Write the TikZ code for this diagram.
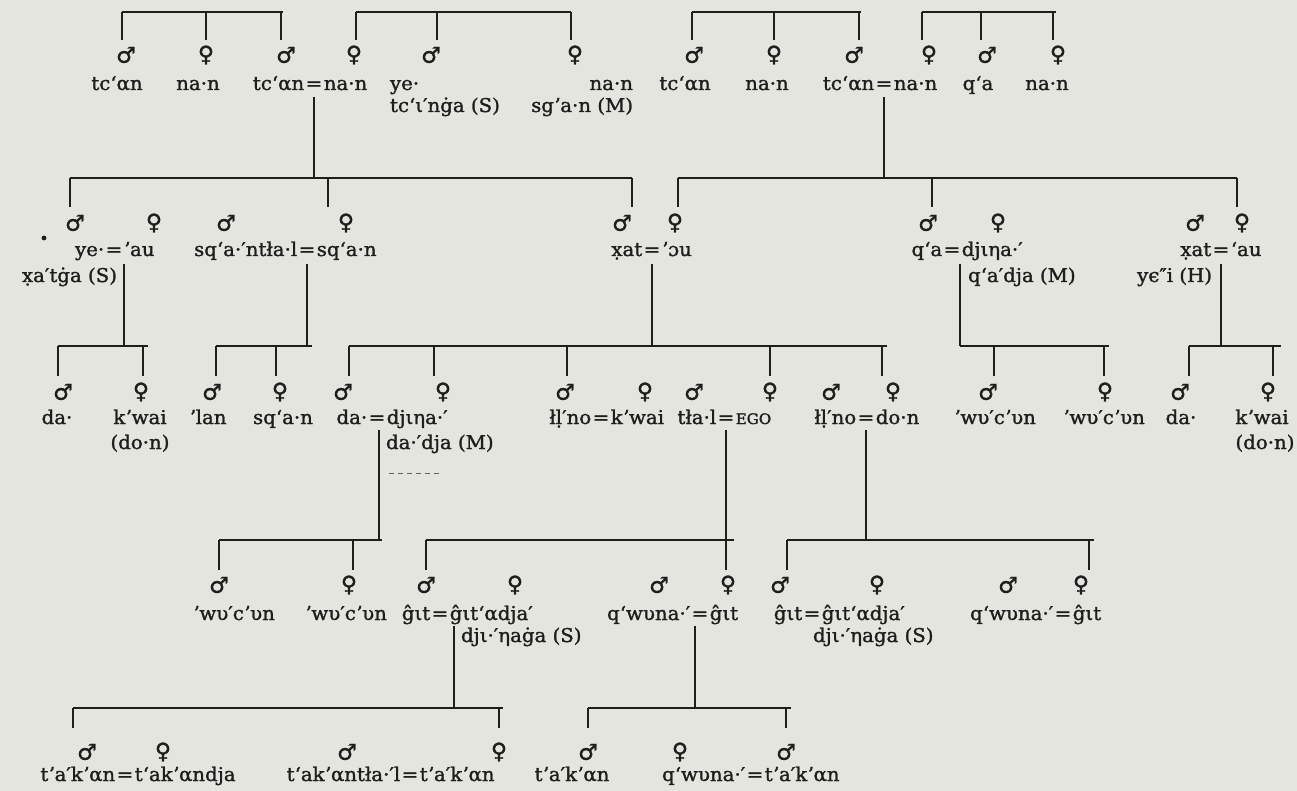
\documentclass[tikz,border=0pt]{standalone}
\usepackage{fontspec}
\setmainfont{DejaVu Serif}[FakeStretch=1.04,FakeBold=1.4]
\newfontfamily\symfont{DejaVu Sans}[FakeBold=1.2]
\definecolor{paper}{RGB}{229,229,223}
\definecolor{ink}{RGB}{30,30,28}

% sibling line at height #1 from #2 to #3, with drop ticks #5 of length #4
\newcommand\sibs[5]{%
  \draw[kin] (#2,#1) -- (#3,#1);
  \foreach \tx in {#5} {\draw[kin] (\tx,#1) -- (\tx,#1+#4);}
}
% married couple: node #1 is the "=" at (#2,#3), partners #4 and #5 on either side
\newcommand\couple[5]{%
  \node[lbl,anchor=base] (#1) at (#2,#3) {=};
  \node[lbl,anchor=base east] (#1-l) at ([xshift=-1.5pt]#1.base west) {#4};
  \node[lbl,anchor=base west] (#1-r) at ([xshift=1.5pt]#1.base east) {#5};
}
% descent line from a couple down to the line of their children
\newcommand\descent[3]{\draw[kin] (#1,#2) -- (#1,#3);}

\begin{document}
\begin{tikzpicture}[x=1pt,y=-1pt,
  every node/.style={inner sep=0pt,outer sep=0pt,text=ink},
  lbl/.style={font=\fontsize{19}{21}\selectfont},
  male/.style={font=\symfont\fontsize{22}{22}\selectfont,anchor=center},
  female/.style={font=\symfont\fontsize{22}{22}\selectfont,anchor=center},
  kin/.style={draw=ink,line width=1.8pt},
]
\fill[paper] (0,0) rectangle (1297,791);
\useasboundingbox (0,0) rectangle (1297,791);

% ---------------- generation 1 ----------------
\sibs{12}{122}{283}{28}{122,206,281}
\sibs{12}{356}{571}{28}{356,437,571}
\sibs{12}{692}{861}{28}{692,774,859}
\sibs{12}{922}{1056}{28}{922,981,1053}

\node[male]   (g1s1)  at (126,55)  {♂};
\node[female] (g1s2)  at (206,55)  {♀};
\node[male]   (g1s3)  at (286,55)  {♂};
\node[female] (g1s4)  at (354,55)  {♀};
\node[male]   (g1s5)  at (431,55)  {♂};
\node[female] (g1s6)  at (575,55)  {♀};
\node[male]   (g1s7)  at (694,55)  {♂};
\node[female] (g1s8)  at (774,55)  {♀};
\node[male]   (g1s9)  at (854,55)  {♂};
\node[female] (g1s10) at (929,55)  {♀};
\node[male]   (g1s11) at (987,55)  {♂};
\node[female] (g1s12) at (1058,55) {♀};

\node[lbl,anchor=base] (g1n1) at (117,90) {tcʻαn};
\node[lbl,anchor=base] (g1n2) at (198,90) {na·n};
\couple{ab}{314}{90}{tcʻαn}{na·n}
\node[lbl,anchor=base west] (g1n5) at (390,90) {ye·};
\node[lbl,anchor=base west] (g1n5b) at (390,112) {tcʻι′nġa (S)};
\node[lbl,anchor=base east] (g1n6) at (633,90) {na·n};
\node[lbl,anchor=base east] (g1n6b) at (633,112) {sgʼa·n (M)};
\node[lbl,anchor=base] (g1n7) at (685,90) {tcʻαn};
\node[lbl,anchor=base] (g1n8) at (767,90) {na·n};
\couple{cd}{884}{90}{tcʻαn}{na·n}
\node[lbl,anchor=base] (g1n11) at (978,90) {qʻa};
\node[lbl,anchor=base] (g1n12) at (1047,90) {na·n};

\descent{314}{97}{178}
\descent{884}{97}{178}

% ---------------- generation 2 ----------------
\sibs{178}{70}{632}{29}{70,328,632}
\sibs{178}{678}{1237}{29}{678,932,1237}

\node[male]   (g2s1)  at (75,223)   {♂};
\node[female] (g2s2)  at (154,223)  {♀};
\node[male]   (g2s3)  at (226,223)  {♂};
\node[female] (g2s4)  at (346,223)  {♀};
\node[male]   (g2s5)  at (622,223)  {♂};
\node[female] (g2s6)  at (675,223)  {♀};
\node[male]   (g2s7)  at (928,223)  {♂};
\node[female] (g2s8)  at (998,223)  {♀};
\node[male]   (g2s9)  at (1195,223) {♂};
\node[female] (g2s10) at (1242,223) {♀};

\fill[ink] (44,238) circle (2.4pt);
\couple{ya}{114}{256}{ye·}{ʼau}
\node[lbl,anchor=base east] (g2n1b) at (117,282) {x̣a′tġa (S)};
\couple{sq}{307}{256}{sqʻa·′ntła·l}{sqʻa·n}
\couple{xa}{652}{256}{x̣at}{ʼɔu}
\couple{qd}{952}{256}{qʻa}{djιηa·′}
\node[lbl,anchor=base west] (g2n7b) at (968,282) {qʻa′dja (M)};
\couple{xb}{1221}{256}{x̣at}{ʻau}
\node[lbl,anchor=base east] (g2n9b) at (1212,282) {yϵ″i (H)};

\descent{124}{264}{346}
\descent{307}{264}{346}
\descent{652}{264}{346}
\descent{960}{264}{346}
\descent{1221}{264}{346}

% ---------------- generation 3 ----------------
\sibs{346}{58}{148}{30}{58,143}
\sibs{346}{216}{312}{30}{216,276}
\sibs{346}{349}{887}{30}{349,434,567,770,882}
\sibs{346}{960}{1109}{30}{994,1104}
\sibs{346}{1189}{1281}{30}{1189,1273}

\node[male]   (g3s1)  at (63,392)   {♂};
\node[female] (g3s2)  at (141,392)  {♀};
\node[male]   (g3s3)  at (212,392)  {♂};
\node[female] (g3s4)  at (280,392)  {♀};
\node[male]   (g3s5)  at (343,392)  {♂};
\node[female] (g3s6)  at (443,392)  {♀};
\node[male]   (g3s7)  at (565,392)  {♂};
\node[female] (g3s8)  at (645,392)  {♀};
\node[male]   (g3s9)  at (694,392)  {♂};
\node[female] (g3s10) at (770,392)  {♀};
\node[male]   (g3s11) at (831,392)  {♂};
\node[female] (g3s12) at (893,392)  {♀};
\node[male]   (g3s13) at (988,392)  {♂};
\node[female] (g3s14) at (1105,392) {♀};
\node[male]   (g3s15) at (1180,392) {♂};
\node[female] (g3s16) at (1268,392) {♀};

\node[lbl,anchor=base] (g3n1) at (57,424) {da·};
\node[lbl,anchor=base] (g3n2) at (140,424) {kʼwai};
\node[lbl,anchor=base] (g3n2b) at (140,449) {(do·n)};
\node[lbl,anchor=base] (g3n3) at (208,424) {ʼlan};
\node[lbl,anchor=base] (g3n4) at (283,424) {sqʻa·n};
\couple{dd}{377}{424}{da·}{djιηa·′}
\node[lbl,anchor=base west] (g3n6b) at (386,449) {da·′dja (M)};
\couple{lk}{601}{424}{łḷ′no}{kʼwai}
\couple{te}{726}{424}{tła·l}{\fontsize{14.5}{15}\selectfont EGO}
\couple{ld}{866}{424}{łḷ′no}{do·n}
\node[lbl,anchor=base] (g3n13) at (995,424) {ʼwυ′cʼυn};
\node[lbl,anchor=base] (g3n14) at (1104,424) {ʼwυ′cʼυn};
\node[lbl,anchor=base] (g3n15) at (1181,424) {da·};
\node[lbl,anchor=base] (g3n16) at (1262,424) {kʼwai};
\node[lbl,anchor=base] (g3n16b) at (1265,449) {(do·n)};

\descent{379}{430}{540}
\descent{726}{430}{540}
\descent{866}{430}{540}
\draw[ink!70,line width=0.7pt,dash pattern=on 5pt off 4pt] (389,473) -- (439,473);

% ---------------- generation 4 ----------------
\sibs{540}{219}{382}{30}{219,353}
\sibs{540}{426}{734}{30}{426,726}
\sibs{540}{787}{1094}{30}{787,1089}

\node[male]   (g4s1)  at (219,585)  {♂};
\node[female] (g4s2)  at (349,585)  {♀};
\node[male]   (g4s3)  at (426,585)  {♂};
\node[female] (g4s4)  at (515,585)  {♀};
\node[male]   (g4s5)  at (659,585)  {♂};
\node[female] (g4s6)  at (728,585)  {♀};
\node[male]   (g4s7)  at (780,585)  {♂};
\node[female] (g4s8)  at (877,585)  {♀};
\node[male]   (g4s9)  at (1008,585) {♂};
\node[female] (g4s10) at (1081,585) {♀};

\node[lbl,anchor=base] (g4n1) at (234,620) {ʼwυ′cʼυn};
\node[lbl,anchor=base] (g4n2) at (346,620) {ʼwυ′cʼυn};
\couple{ga}{440}{620}{ĝιt}{ĝιtʻαdja′}
\node[lbl,anchor=base west] (g4n4b) at (461,642) {djι·′ηaġa (S)};
\couple{qa}{700}{620}{qʻwυna·′}{ĝιt}
\couple{gb}{812}{620}{ĝιt}{ĝιtʻαdja′}
\node[lbl,anchor=base west] (g4n8b) at (813,642) {djι·′ηaġa (S)};
\couple{qb}{1063}{620}{qʻwυna·′}{ĝιt}

\descent{454}{626}{708}
\descent{695}{626}{708}

% ---------------- generation 5 ----------------
\sibs{708}{73}{503}{20}{73,499}
\sibs{708}{588}{791}{20}{588,786}

\node[male]   (g5s1) at (87,752)  {♂};
\node[female] (g5s2) at (163,752) {♀};
\node[male]   (g5s3) at (347,752) {♂};
\node[female] (g5s4) at (499,752) {♀};
\node[male]   (g5s5) at (588,752) {♂};
\node[female] (g5s6) at (680,752) {♀};
\node[male]   (g5s7) at (786,752) {♂};

\couple{ta}{125}{781}{tʼa′kʼαn}{tʻakʼαndja}
\couple{tb}{410}{781}{tʻakʼαntła·′l}{tʼa′kʼαn}
\node[lbl,anchor=base] (g5n5) at (572,781) {tʼa′kʼαn};
\couple{tc}{755}{781}{qʻwυna·′}{tʼa′kʼαn}
\end{tikzpicture}
\end{document}
